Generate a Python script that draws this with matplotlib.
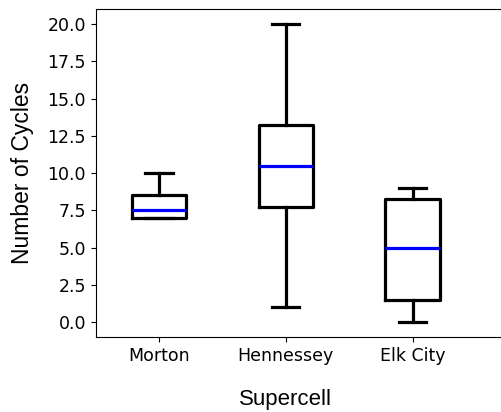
import matplotlib
matplotlib.use("Agg")
import matplotlib.pyplot as plt

categories = ["Morton", "Hennessey", "Elk City"]
whisker_low = [7.0, 1.0, 0.0]
q1 = [7.0, 7.75, 1.5]
median = [7.5, 10.5, 5.0]
q3 = [8.5, 13.25, 8.25]
whisker_high = [10.0, 20.0, 9.0]
yticks = [0.0, 2.5, 5.0, 7.5, 10.0, 12.5, 15.0, 17.5, 20.0]

stats = []
for i, name in enumerate(categories):
    stats.append(dict(label=name, whislo=whisker_low[i], q1=q1[i], med=median[i],
                      q3=q3[i], whishi=whisker_high[i], fliers=[]))

FW, FH = 501, 412
left_px, top_px, bottom_px = 95.6, 9.3, 337.0
W = 420.0  # axes width in px (extends past right edge of figure)
H = bottom_px - top_px
px_per_unit = 126.8

fig = plt.figure(figsize=(FW / 100, FH / 100), dpi=100)
ax = fig.add_axes([left_px / FW, 1 - bottom_px / FH, W / FW, H / FH])

lw = 2.3
ax.bxp(stats, positions=[1, 2, 3], widths=0.43, showfliers=False,
       boxprops=dict(color="black", linewidth=lw),
       whiskerprops=dict(color="black", linewidth=lw),
       capprops=dict(color="black", linewidth=lw),
       medianprops=dict(color="blue", linewidth=lw))

ax.set_xlim(0.5, 0.5 + W / px_per_unit)
ax.set_ylim(-1, 21)
ax.set_yticks(yticks)
ax.set_yticklabels([f"{v:.1f}" for v in yticks])
ax.spines["right"].set_visible(False)
ax.tick_params(labelsize=12.5)

ax.set_ylabel("Number of Cycles", fontsize=16.5, family="Liberation Sans")
ax.set_xlabel("Supercell", fontsize=16, family="Liberation Sans")
ax.yaxis.set_label_coords((34 - left_px) / W, 0.5)
xlab_x = (2 - 0.5) * px_per_unit / W
ax.xaxis.set_label_coords(xlab_x, -(389 - bottom_px) / H)

fig.savefig("out.png", dpi=100)
